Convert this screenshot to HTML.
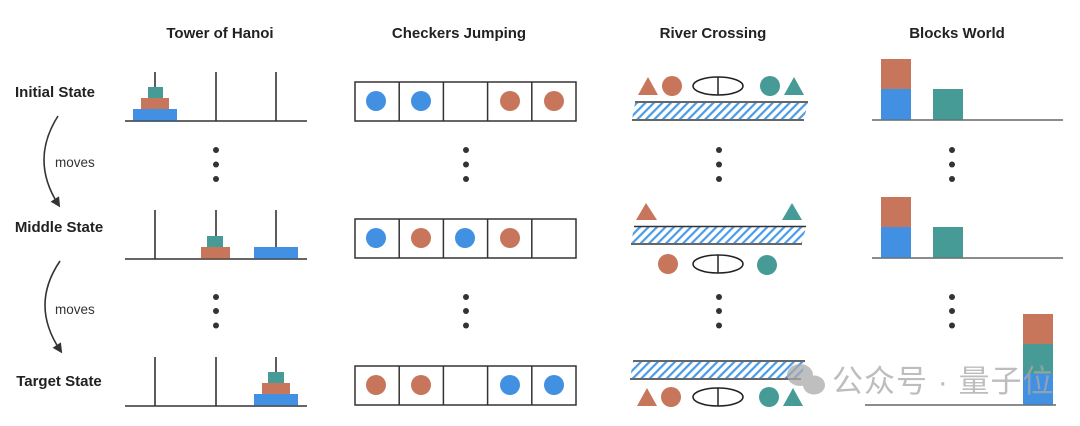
<!DOCTYPE html>
<html><head><meta charset="utf-8"><style>
html,body{margin:0;padding:0;background:#fff;width:1080px;height:426px;overflow:hidden}
svg{display:block}
text{font-family:"Liberation Sans",sans-serif;fill:#222}
.h{font-size:15px;font-weight:bold;text-anchor:middle}
.r{font-size:15px;font-weight:bold;text-anchor:middle}
.m{font-size:13.5px;fill:#333}
</style></head><body>
<svg width="1080" height="426" viewBox="0 0 1080 426" xmlns="http://www.w3.org/2000/svg">
<defs>
<pattern id="hat" patternUnits="userSpaceOnUse" width="6" height="6" patternTransform="rotate(45)">
<rect width="6" height="6" fill="#fff"/><rect x="0" y="0" width="2.2" height="6" fill="#4a9be8"/>
</pattern>
<marker id="ah" markerWidth="10" markerHeight="10" refX="6" refY="5" orient="auto" markerUnits="userSpaceOnUse">
<path d="M0,0 L10,5 L0,10 z" fill="#333"/>
</marker>
</defs>

<text class="h" x="220" y="38">Tower of Hanoi</text>
<text class="h" x="459" y="38">Checkers Jumping</text>
<text class="h" x="713" y="38">River Crossing</text>
<text class="h" x="957" y="38">Blocks World</text>

<text class="r" x="55" y="97">Initial State</text>
<text class="r" x="59" y="232">Middle State</text>
<text class="r" x="59" y="386">Target State</text>

<path d="M58,116 Q30,160 58,204" stroke="#333" stroke-width="1.6" fill="none" marker-end="url(#ah)"/>
<text class="m" x="55" y="167">moves</text>
<path d="M60,261 Q30,305 60,350" stroke="#333" stroke-width="1.6" fill="none" marker-end="url(#ah)"/>
<text class="m" x="55" y="314">moves</text>

<g fill="#333">
<circle cx="216" cy="150" r="3"/><circle cx="216" cy="164.5" r="3"/><circle cx="216" cy="179" r="3"/>
<circle cx="216" cy="297" r="3"/><circle cx="216" cy="311" r="3"/><circle cx="216" cy="325.5" r="3"/>
<circle cx="466" cy="150" r="3"/><circle cx="466" cy="164.5" r="3"/><circle cx="466" cy="179" r="3"/>
<circle cx="466" cy="297" r="3"/><circle cx="466" cy="311" r="3"/><circle cx="466" cy="325.5" r="3"/>
<circle cx="719" cy="150" r="3"/><circle cx="719" cy="164.5" r="3"/><circle cx="719" cy="179" r="3"/>
<circle cx="719" cy="297" r="3"/><circle cx="719" cy="311" r="3"/><circle cx="719" cy="325.5" r="3"/>
<circle cx="952" cy="150" r="3"/><circle cx="952" cy="164.5" r="3"/><circle cx="952" cy="179" r="3"/>
<circle cx="952" cy="297" r="3"/><circle cx="952" cy="311" r="3"/><circle cx="952" cy="325.5" r="3"/>
</g>

<g stroke="#333" stroke-width="1.6">
<line x1="125" y1="121" x2="307" y2="121"/>
<line x1="155" y1="72" x2="155" y2="121"/><line x1="216" y1="72" x2="216" y2="121"/><line x1="276" y1="72" x2="276" y2="121"/>
<line x1="125" y1="259" x2="307" y2="259"/>
<line x1="155" y1="210" x2="155" y2="259"/><line x1="216" y1="210" x2="216" y2="259"/><line x1="276" y1="210" x2="276" y2="259"/>
<line x1="125" y1="406" x2="307" y2="406"/>
<line x1="155" y1="357" x2="155" y2="406"/><line x1="216" y1="357" x2="216" y2="406"/><line x1="276" y1="357" x2="276" y2="406"/>
</g>
<rect x="133" y="109" width="44" height="11.5" fill="#4190e2"/>
<rect x="141" y="98" width="28" height="11" fill="#c7765c"/>
<rect x="148" y="87" width="15" height="11" fill="#469b96"/>
<rect x="207" y="236" width="16" height="11" fill="#469b96"/>
<rect x="201" y="247" width="29" height="11.5" fill="#c7765c"/>
<rect x="254" y="247" width="44" height="11.5" fill="#4190e2"/>
<rect x="254" y="394" width="44" height="11.5" fill="#4190e2"/>
<rect x="262" y="383" width="28" height="11" fill="#c7765c"/>
<rect x="268" y="372" width="16" height="11" fill="#469b96"/>

<g fill="none" stroke="#333" stroke-width="1.5">
<rect x="355" y="82" width="221" height="39"/>
<line x1="399.2" y1="82" x2="399.2" y2="121"/><line x1="443.4" y1="82" x2="443.4" y2="121"/><line x1="487.6" y1="82" x2="487.6" y2="121"/><line x1="531.8" y1="82" x2="531.8" y2="121"/>
<rect x="355" y="219" width="221" height="39"/>
<line x1="399.2" y1="219" x2="399.2" y2="258"/><line x1="443.4" y1="219" x2="443.4" y2="258"/><line x1="487.6" y1="219" x2="487.6" y2="258"/><line x1="531.8" y1="219" x2="531.8" y2="258"/>
<rect x="355" y="366" width="221" height="39"/>
<line x1="399.2" y1="366" x2="399.2" y2="405"/><line x1="443.4" y1="366" x2="443.4" y2="405"/><line x1="487.6" y1="366" x2="487.6" y2="405"/><line x1="531.8" y1="366" x2="531.8" y2="405"/>
</g>
<g>
<circle cx="376" cy="101" r="10" fill="#4190e2"/><circle cx="421" cy="101" r="10" fill="#4190e2"/><circle cx="510" cy="101" r="10" fill="#c7765c"/><circle cx="554" cy="101" r="10" fill="#c7765c"/>
<circle cx="376" cy="238" r="10" fill="#4190e2"/><circle cx="421" cy="238" r="10" fill="#c7765c"/><circle cx="465" cy="238" r="10" fill="#4190e2"/><circle cx="510" cy="238" r="10" fill="#c7765c"/>
<circle cx="376" cy="385" r="10" fill="#c7765c"/><circle cx="421" cy="385" r="10" fill="#c7765c"/><circle cx="510" cy="385" r="10" fill="#4190e2"/><circle cx="554" cy="385" r="10" fill="#4190e2"/>
</g>

<g>
<polygon points="635,103 808,103 804,119 632,119" fill="url(#hat)"/>
<line x1="635" y1="102" x2="808" y2="102" stroke="#333" stroke-width="1.6"/>
<line x1="632" y1="120" x2="804" y2="120" stroke="#333" stroke-width="1.6"/>
<polygon points="638,95 648,77 658,95" fill="#c7765c"/>
<circle cx="672" cy="86" r="10" fill="#c7765c"/>
<ellipse cx="718" cy="86" rx="25" ry="9" fill="none" stroke="#222" stroke-width="1.5"/><line x1="718" y1="77" x2="718" y2="95" stroke="#222" stroke-width="1.5"/>
<circle cx="770" cy="86" r="10" fill="#469b96"/>
<polygon points="784,95 794,77 804,95" fill="#469b96"/>

<polygon points="634,227 806,227 802,243 631,243" fill="url(#hat)"/>
<line x1="634" y1="226.5" x2="806" y2="226.5" stroke="#333" stroke-width="1.6"/>
<line x1="631" y1="244" x2="802" y2="244" stroke="#333" stroke-width="1.6"/>
<polygon points="636,220 646,203 657,220" fill="#c7765c"/>
<polygon points="782,220 792,203 802,220" fill="#469b96"/>
<circle cx="668" cy="264" r="10" fill="#c7765c"/>
<ellipse cx="718" cy="264" rx="25" ry="9" fill="none" stroke="#222" stroke-width="1.5"/><line x1="718" y1="255" x2="718" y2="273" stroke="#222" stroke-width="1.5"/>
<circle cx="767" cy="265" r="10" fill="#469b96"/>

<polygon points="633,362 805,362 801,378 630,378" fill="url(#hat)"/>
<line x1="633" y1="361" x2="805" y2="361" stroke="#333" stroke-width="1.6"/>
<line x1="630" y1="379" x2="801" y2="379" stroke="#333" stroke-width="1.6"/>
<polygon points="637,406 647,388 657,406" fill="#c7765c"/>
<circle cx="671" cy="397" r="10" fill="#c7765c"/>
<ellipse cx="718" cy="397" rx="25" ry="9" fill="none" stroke="#222" stroke-width="1.5"/><line x1="718" y1="388" x2="718" y2="406" stroke="#222" stroke-width="1.5"/>
<circle cx="769" cy="397" r="10" fill="#469b96"/>
<polygon points="783,406 793,388 803,406" fill="#469b96"/>
</g>

<g>
<line x1="872" y1="120" x2="1063" y2="120" stroke="#666" stroke-width="1.6"/>
<rect x="881" y="59" width="30" height="30" fill="#c7765c"/>
<rect x="881" y="89" width="30" height="30.5" fill="#4190e2"/>
<rect x="933" y="89" width="30" height="30.5" fill="#469b96"/>
<line x1="872" y1="258" x2="1063" y2="258" stroke="#666" stroke-width="1.6"/>
<rect x="881" y="197" width="30" height="30" fill="#c7765c"/>
<rect x="881" y="227" width="30" height="30.5" fill="#4190e2"/>
<rect x="933" y="227" width="30" height="30.5" fill="#469b96"/>
<line x1="865" y1="405" x2="1056" y2="405" stroke="#666" stroke-width="1.6"/>
<rect x="1023" y="314" width="30" height="30" fill="#c7765c"/>
<rect x="1023" y="344" width="30" height="30" fill="#469b96"/>
<rect x="1023" y="374" width="30" height="30.5" fill="#4190e2"/>
</g>

<g opacity="0.75">
<ellipse cx="800" cy="375" rx="13" ry="11" fill="#aaa"/>
<ellipse cx="814" cy="385" rx="11" ry="9.5" fill="#aaa"/>
<text x="832" y="392" style="font-family:'Liberation Sans','Noto Sans CJK SC',sans-serif;font-size:31px;letter-spacing:1px;fill:#a8a8a8">公众号 · 量子位</text>
</g>
</svg>
</body></html>
